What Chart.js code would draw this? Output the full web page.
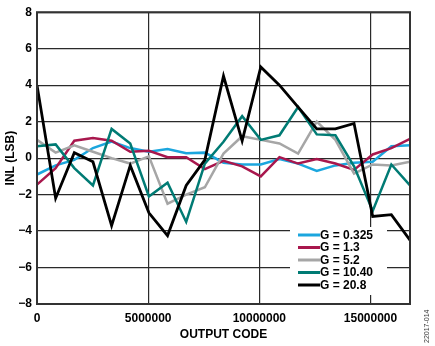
<!DOCTYPE html>
<html>
<head>
<meta charset="utf-8">
<script src="https://cdn.jsdelivr.net/npm/chart.js@4.4.1/dist/chart.umd.min.js"></script>
<style>
  html, body { margin: 0; padding: 0; background: #fff; }
  #wrap { position: relative; width: 435px; height: 346px; }
  #figId {
    position: absolute; left: 423px; top: 303px; width: 40px; height: 10px;
    font: 7px "Liberation Sans", Arial, sans-serif; color: #333;
    transform-origin: 0 0; transform: rotate(-90deg) translate(-40px, 0);
    white-space: nowrap;
  }
</style>
</head>
<body>
<div id="wrap">
  <canvas id="inlChart" width="435" height="346"></canvas>
  <div id="figId">22017-014</div>
</div>
<script>
// output codes sampled across the 24-bit range
const codes = [0, 838861, 1677722, 2516582, 3355443, 4194304, 5033165, 5872026, 6710886,
  7549747, 8388608, 9227469, 10066330, 10905190, 11744051, 12582912, 13421773,
  14260634, 15099494, 15938355, 16777215];

const gainLabels = ['G = 0.325', 'G = 1.3', 'G = 5.2', 'G = 10.40', 'G = 20.8'];

const inlG0325 = [-0.9, -0.4, -0.1, 0.55, 0.9, 0.55, 0.35, 0.5, 0.27, 0.3, -0.25,
  -0.35, -0.35, -0.05, -0.3, -0.7, -0.4, -0.25, -0.2, 0.65, 0.7];
const inlG13 = [-1.45, -0.55, 0.95, 1.1, 0.95, 0.35, 0.4, 0.05, 0.05, -0.6, -0.15,
  -0.45, -1.0, 0.05, -0.3, -0.05, -0.3, -0.65, 0.2, 0.55, 1.05];
const inlG52 = [1.0, 0.3, 0.7, 0.35, 0.0, -0.3, 0.1, -2.5, -2.0, -1.6, 0.25,
  1.2, 1.0, 0.8, 0.25, 2.0, 1.0, -0.85, -0.35, -0.4, -0.2];
const inlG1040 = [0.65, 0.75, -0.55, -1.5, 1.6, 0.8, -2.1, -1.35, -3.5, -0.3, 0.9,
  2.3, 1.0, 1.25, 2.8, 1.3, 1.25, -0.45, -2.9, -0.35, -1.5];
const inlG208 = [4.0, -2.2, 0.3, -0.2, -3.7, -0.4, -3.0, -4.25, -1.5, -0.1, 4.5,
  0.95, 5.0, 4.0, 2.8, 1.6, 1.6, 1.9, -3.2, -3.1, -4.5];

const yTicks = [-8, -6, -4, -2, 0, 2, 4, 6, 8];
const xTicks = [0, 5000000, 10000000, 15000000];

const colors = ['#1ba6de', '#a8174d', '#a6a6a6', '#007b74', '#000000'];
const series = [inlG0325, inlG13, inlG52, inlG1040, inlG208];

const FONT = '"Liberation Sans", Arial, sans-serif';

function toPoints(vals) {
  return vals.map((v, i) => ({ x: codes[i], y: v }));
}

// frame round the plot area
const framePlugin = {
  id: 'frame',
  afterDraw(chart) {
    const { ctx, chartArea: a } = chart;
    ctx.save();
    ctx.strokeStyle = '#333';
    ctx.lineWidth = 2;
    ctx.strokeRect(a.left, a.top, a.right - a.left, a.bottom - a.top);
    ctx.restore();
  }
};

// legend box sitting inside the plot, lower right
const legendPlugin = {
  id: 'boxLegend',
  afterDatasetsDraw(chart) {
    const { ctx } = chart;
    ctx.save();
    ctx.fillStyle = '#fff';
    ctx.fillRect(290, 227, 97, 68);
    ctx.font = 'bold 12px ' + FONT;
    ctx.textBaseline = 'middle';
    ctx.fillStyle = '#000';
    gainLabels.forEach((lbl, i) => {
      const y = 235 + i * 12.5;
      ctx.strokeStyle = colors[i];
      ctx.lineWidth = 3;
      ctx.beginPath();
      ctx.moveTo(298, y);
      ctx.lineTo(320, y);
      ctx.stroke();
      ctx.fillText(lbl, 320, y + 0.5);
    });
    ctx.restore();
  }
};

const datasets = series.map((vals, i) => ({
  label: gainLabels[i],
  data: toPoints(vals),
  borderColor: colors[i],
  backgroundColor: colors[i],
  borderWidth: i === 4 ? 2.8 : 2.5,
  pointRadius: 0,
  tension: 0,
  fill: false,
  order: 4 - i
}));

new Chart(document.getElementById('inlChart').getContext('2d'), {
  type: 'line',
  data: { datasets },
  options: {
    responsive: false,
    animation: false,
    layout: { padding: { top: 6, right: 25, left: 0, bottom: 0 } },
    plugins: { legend: { display: false }, tooltip: { enabled: false } },
    scales: {
      x: {
        type: 'linear',
        min: 0,
        max: 16777215,
        afterFit: (s) => { s.height = 42; },
        afterBuildTicks: (s) => { s.ticks = xTicks.map((v) => ({ value: v })); },
        ticks: {
          callback: (v) => String(v),
          font: { family: FONT, size: 12, weight: 'bold' },
          color: '#000',
          padding: 7,
          maxRotation: 0
        },
        grid: { color: '#2a2a2a', lineWidth: 1.2, drawTicks: false },
        border: { display: false },
        title: {
          display: true,
          text: 'OUTPUT CODE',
          font: { family: FONT, size: 12, weight: 'bold' },
          color: '#000',
          padding: { top: 0, bottom: 4 }
        }
      },
      y: {
        min: -8,
        max: 8,
        afterFit: (s) => { s.width = 37; },
        afterBuildTicks: (s) => { s.ticks = yTicks.map((v) => ({ value: v })); },
        ticks: {
          callback: (v) => (v < 0 ? '\u2212' + Math.abs(v) : String(v)),
          font: { family: FONT, size: 12, weight: 'bold' },
          color: '#000',
          padding: 5
        },
        grid: { color: '#2a2a2a', lineWidth: 1.2, drawTicks: false },
        border: { display: false },
        title: {
          display: true,
          text: 'INL (LSB)',
          font: { family: FONT, size: 12, weight: 'bold' },
          color: '#000',
          padding: { top: 3, bottom: 0 }
        }
      }
    }
  },
  plugins: [framePlugin, legendPlugin]
});
</script>
</body>
</html>
